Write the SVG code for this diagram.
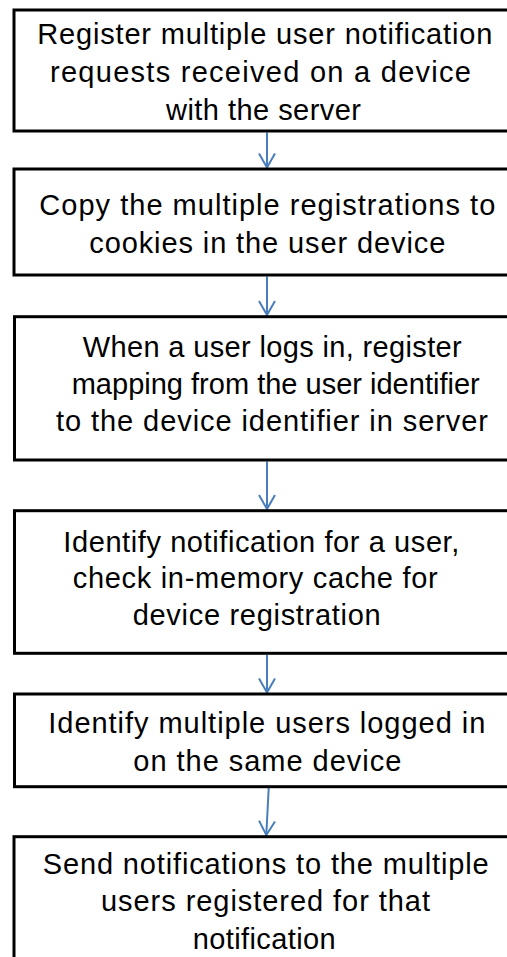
<svg xmlns="http://www.w3.org/2000/svg" width="507" height="957" viewBox="0 0 507 957">
<style>
.box{fill:#fff;stroke:#000;stroke-width:3}
.t{font-family:"Liberation Sans",Arial,sans-serif;font-size:29px;fill:#000}
.c{fill:none;stroke:#4A7EBB;stroke-width:2}
</style>
<defs>
<marker id="ah" markerUnits="userSpaceOnUse" markerWidth="20" markerHeight="20" refX="15" refY="9" orient="auto" viewBox="0 0 20 20">
<path d="M1,1 L15,9 L1,17" fill="none" stroke="#4A7EBB" stroke-width="2"/>
</marker>
</defs>
<rect width="507" height="957" fill="#fff"/>
<g id="connectors">
<path class="c" d="M267,132.5 L267,167.5" marker-end="url(#ah)"/>
<path class="c" d="M267,276.5 L267,315" marker-end="url(#ah)"/>
<path class="c" d="M267,461.5 L267,509" marker-end="url(#ah)"/>
<path class="c" d="M267,655 L267,692.5" marker-end="url(#ah)"/>
<path class="c" d="M268.7,788 L266.3,835" marker-end="url(#ah)"/>
</g>
<g id="n1">
<rect class="box" x="14" y="10" width="520" height="121"/>
<text class="t" x="37.3" y="44" textLength="455" lengthAdjust="spacing">Register multiple user notification</text>
<text class="t" x="50" y="82" textLength="421" lengthAdjust="spacing">requests received on a device</text>
<text class="t" x="166" y="120" textLength="195" lengthAdjust="spacing">with the server</text>
</g>
<g id="n2">
<rect class="box" x="14" y="169" width="520" height="106"/>
<text class="t" x="39.3" y="215" textLength="456" lengthAdjust="spacing">Copy the multiple registrations to</text>
<text class="t" x="89.3" y="252.5" textLength="356" lengthAdjust="spacing">cookies in the user device</text>
</g>
<g id="n3">
<rect class="box" x="14.5" y="316.7" width="520" height="143.3"/>
<text class="t" x="82.7" y="357" textLength="379" lengthAdjust="spacing">When a user logs in, register</text>
<text class="t" x="71.7" y="394" textLength="408" lengthAdjust="spacing">mapping from the user identifier</text>
<text class="t" x="56" y="431" textLength="432" lengthAdjust="spacing">to the device identifier in server</text>
</g>
<g id="n4">
<rect class="box" x="14.5" y="510.7" width="520" height="142.6"/>
<text class="t" x="63.3" y="551.5" textLength="396" lengthAdjust="spacing">Identify notification for a user,</text>
<text class="t" x="72.7" y="588" textLength="365" lengthAdjust="spacing">check in-memory cache for</text>
<text class="t" x="132.7" y="624.5" textLength="248" lengthAdjust="spacing">device registration</text>
</g>
<g id="n5">
<rect class="box" x="14.5" y="694" width="520" height="92.7"/>
<text class="t" x="48.3" y="733" textLength="437" lengthAdjust="spacing">Identify multiple users logged in</text>
<text class="t" x="133.3" y="770.5" textLength="268" lengthAdjust="spacing">on the same device</text>
</g>
<g id="n6">
<rect class="box" x="14" y="836.7" width="520" height="140"/>
<text class="t" x="42.7" y="874" textLength="446" lengthAdjust="spacing">Send notifications to the multiple</text>
<text class="t" x="101" y="911" textLength="329" lengthAdjust="spacing">users registered for that</text>
<text class="t" x="192.7" y="948.5" textLength="143" lengthAdjust="spacing">notification</text>
</g>
</svg>
